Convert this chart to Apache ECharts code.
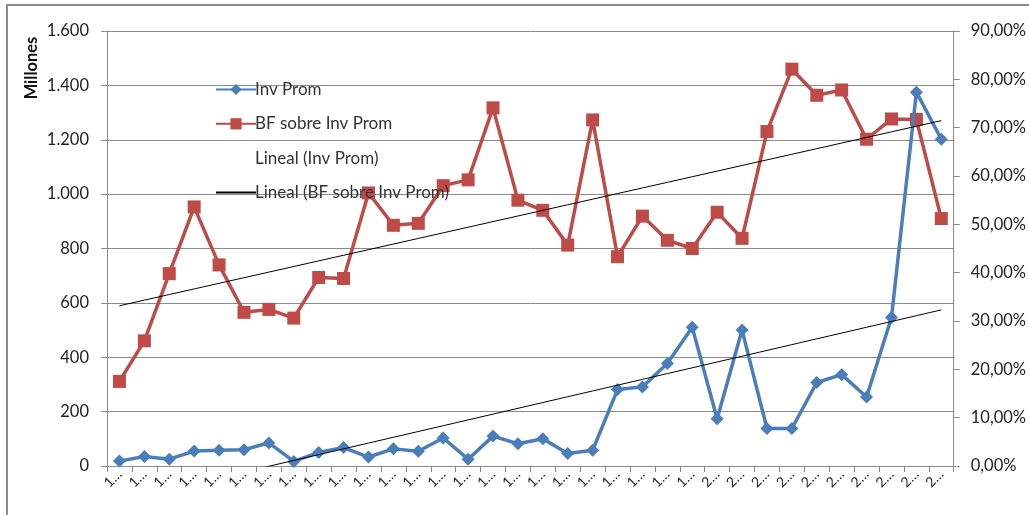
<!DOCTYPE html>
<html>
<head>
<meta charset="utf-8">
<script src="https://cdn.jsdelivr.net/npm/echarts@6/dist/echarts.min.js"></script>
<style>
  html, body { margin: 0; padding: 0; background: #fff; }
  #chart { width: 1029px; height: 515px; }
</style>
</head>
<body>
<div id="chart"></div>
<script>
// Category labels (as shown on the axis, truncated)
const categories = [
  '1…','1…','1…','1…','1…','1…','1…','1…','1…','1…','1…','1…',
  '1…','1…','1…','1…','1…','1…','1…','1…','1…','1…','1…','1…',
  '2…','2…','2…','2…','2…','2…','2…','2…','2…','2…'
];

// Inv Prom, millions (left axis)
const invProm = [
  18, 35, 25, 55, 58, 60, 85, 17, 50, 68, 33, 63, 54, 103, 25, 110, 82,
  100, 46, 58, 281, 291, 377, 510, 174, 500, 138, 138, 307, 336, 254, 546, 1375, 1202
];

// BF sobre Inv Prom, percent (right axis)
const bfSobreInv = [
  17.5, 25.9, 39.8, 53.6, 41.6, 31.8, 32.4, 30.6, 39.0, 38.8, 56.5, 49.8, 50.2, 58.0,
  59.2, 74.1, 55.0, 52.9, 45.7, 71.6, 43.3, 51.7, 46.7, 45.0, 52.5, 47.1, 69.2, 82.1,
  76.7, 77.8, 67.6, 71.8, 71.7, 51.2
];

// Axis ranges
const leftAxis = { min: 0, max: 1600, interval: 200 };
const rightAxis = { min: 0, max: 90, interval: 10 };

// Least-squares linear trend over the category index
function linearTrend(values) {
  const n = values.length;
  let sx = 0, sy = 0, sxx = 0, sxy = 0;
  values.forEach((y, i) => { sx += i; sy += y; sxx += i * i; sxy += i * y; });
  const slope = (n * sxy - sx * sy) / (n * sxx - sx * sx);
  const icpt = (sy - slope * sx) / n;
  return values.map((_, i) => icpt + slope * i);
}

const BLUE = '#4a7ebb';
const RED = '#be4b48';
const GRID = '#8a8a8a';
const FONT = 'Lato, "Open Sans", sans-serif';

const chart = echarts.init(document.getElementById('chart'), null, { renderer: 'canvas' });

chart.setOption({
  animation: false,
  backgroundColor: '#fff',
  textStyle: { fontFamily: FONT },
  grid: { left: 107, right: 74, top: 31, bottom: 49, containLabel: false },
  legend: {
    orient: 'vertical',
    left: 210,
    top: 76,
    itemWidth: 40,
    itemHeight: 14,
    itemGap: 17.3,
    textStyle: { fontFamily: FONT, fontSize: 17, color: '#333', lineHeight: 17, padding: [0, 0, 0, -6] },
    data: [
      { name: 'Inv Prom' },
      { name: 'BF sobre Inv Prom' },
      { name: 'Lineal (Inv Prom)', itemStyle: { opacity: 0 }, lineStyle: { opacity: 0 } },
      { name: 'Lineal (BF sobre Inv Prom)', itemStyle: { opacity: 0 } }
    ]
  },
  xAxis: {
    type: 'category',
    data: categories,
    boundaryGap: true,
    axisLine: { lineStyle: { color: GRID, width: 1 } },
    axisTick: { show: true, interval: 0, length: 6, lineStyle: { color: GRID } },
    axisLabel: { interval: 0, rotate: 45, fontSize: 14, color: '#222', margin: 6, fontFamily: FONT },
    splitLine: { show: false }
  },
  yAxis: [
    {
      type: 'value',
      min: leftAxis.min, max: leftAxis.max, interval: leftAxis.interval,
      axisLine: { show: true, lineStyle: { color: GRID } },
      axisTick: { show: true, length: 6, lineStyle: { color: GRID } },
      axisLabel: {
        fontSize: 16.5, color: '#222', margin: 18, fontFamily: FONT,
        formatter: v => String(v).replace(/\B(?=(\d{3})+(?!\d))/g, '.')
      },
      splitLine: { show: true, lineStyle: { color: GRID, width: 1 } }
    },
    {
      type: 'value',
      position: 'right',
      min: rightAxis.min, max: rightAxis.max, interval: rightAxis.interval,
      axisLine: { show: true, lineStyle: { color: GRID } },
      axisTick: { show: true, length: 6, lineStyle: { color: GRID } },
      axisLabel: {
        fontSize: 16.5, color: '#222', margin: 17, fontFamily: FONT,
        formatter: v => v.toFixed(2).replace('.', ',') + '%'
      },
      splitLine: { show: false }
    }
  ],
  series: [
    {
      name: 'Inv Prom',
      type: 'line',
      yAxisIndex: 0,
      data: invProm,
      symbol: 'diamond',
      symbolSize: 13,
      lineStyle: { color: BLUE, width: 3.5 },
      itemStyle: { color: BLUE },
      z: 3
    },
    {
      name: 'BF sobre Inv Prom',
      type: 'line',
      yAxisIndex: 1,
      data: bfSobreInv,
      symbol: 'rect',
      symbolSize: 13,
      lineStyle: { color: RED, width: 3.5 },
      itemStyle: { color: RED },
      z: 2
    },
    {
      name: 'Lineal (Inv Prom)',
      type: 'line',
      yAxisIndex: 0,
      data: linearTrend(invProm),
      symbol: 'none',
      clip: true,
      lineStyle: { color: '#000', width: 1 },
      itemStyle: { color: '#000' },
      z: 4
    },
    {
      name: 'Lineal (BF sobre Inv Prom)',
      type: 'line',
      yAxisIndex: 1,
      data: linearTrend(bfSobreInv),
      symbol: 'none',
      lineStyle: { color: '#000', width: 1 },
      itemStyle: { color: '#000' },
      z: 4
    }
  ],
  graphic: [
    {
      type: 'rect',
      shape: { x: 7, y: 5, width: 1060, height: 560 },
      style: { fill: 'none', stroke: '#8c8c8c', lineWidth: 2 },
      silent: true
    },
    {
      type: 'text',
      x: 32, y: 68,
      rotation: Math.PI / 2,
      style: {
        text: 'Millones',
        fontFamily: FONT, fontSize: 16.5, fontWeight: 'bold', fill: '#111',
        textAlign: 'center', textVerticalAlign: 'middle'
      }
    }
  ]
});
</script>
</body>
</html>
